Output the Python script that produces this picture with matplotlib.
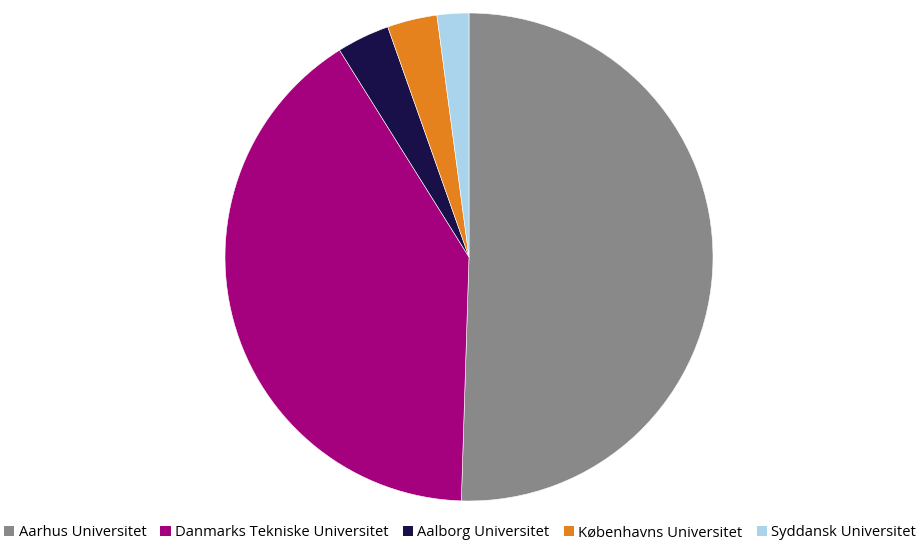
import matplotlib
matplotlib.use("Agg")
import matplotlib.pyplot as plt
from matplotlib.patches import Patch

# data
universities = ["Aarhus Universitet", "Danmarks Tekniske Universitet", "Aalborg Universitet",
                "Københavns Universitet", "Syddansk Universitet"]
shares = [50.5, 40.6, 3.5, 3.3, 2.1]
colors = ["#898989", "#A5007D", "#1A1049", "#E6821E", "#A9D4EC"]

plt.rcParams['font.family'] = ['Open Sans', 'DejaVu Sans']

fig = plt.figure(figsize=(9.2, 5.47), dpi=100)
cx, cy = 469 / 920, 1 - 257 / 547
rw, rh = 244 / 920, 244 / 547
ax = fig.add_axes([cx - rw, cy - rh, 2 * rw, 2 * rh])
ax.pie(shares, colors=colors, startangle=90, counterclock=False, radius=1,
       wedgeprops=dict(edgecolor="white", linewidth=0.4))
ax.set_xlim(-1, 1)
ax.set_ylim(-1, 1)
ax.set_aspect("equal")
ax.axis("off")

handles = [Patch(facecolor=c, edgecolor="none") for c in colors]
fig.legend(handles, universities, loc="lower center", bbox_to_anchor=(0.5, 0.0),
           ncol=5, frameon=False, fontsize=10.6, handlelength=0.7, handleheight=0.7,
           handletextpad=0.3, columnspacing=0.95, borderaxespad=0.05)

fig.savefig("out.png", dpi=100)
